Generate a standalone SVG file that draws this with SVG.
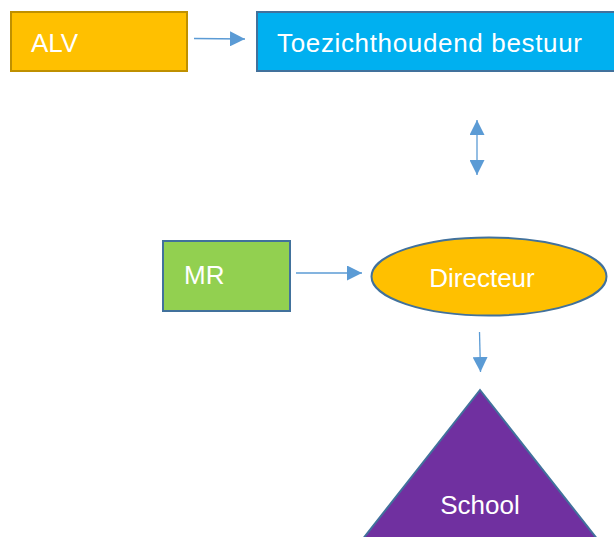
<svg xmlns="http://www.w3.org/2000/svg" width="614" height="537" viewBox="0 0 614 537">
<defs>
<style>
.lbl{font-family:"Liberation Sans",Arial,sans-serif;font-size:26px;fill:#ffffff}
.con{stroke:#5B9BD5;stroke-width:1.3;fill:none}
</style>
<marker id="ah" viewBox="0 0 10 10" refX="10" refY="5" markerWidth="15" markerHeight="15" markerUnits="userSpaceOnUse" orient="auto-start-reverse">
<path d="M0,0 L10,5 L0,10 Z" fill="#5B9BD5"/>
</marker>
</defs>
<rect width="614" height="537" fill="#ffffff"/>
<g id="alv">
<rect x="11" y="12" width="176" height="59" fill="#FFC000" stroke="#BF9000" stroke-width="2"/>
<text class="lbl" x="31" y="52">ALV</text>
</g>
<g id="toezicht">
<rect x="257" y="12" width="370" height="59" fill="#00B0F0" stroke="#41719C" stroke-width="2"/>
<text class="lbl" x="277" y="52" textLength="305">Toezichthoudend bestuur</text>
</g>
<g id="mr">
<rect x="163" y="241" width="127" height="70" fill="#92D050" stroke="#41719C" stroke-width="2"/>
<text class="lbl" x="184" y="284">MR</text>
</g>
<g id="directeur">
<ellipse cx="489" cy="276.5" rx="117.5" ry="39" fill="#FFC000" stroke="#41719C" stroke-width="2"/>
<text class="lbl" x="482" y="287" text-anchor="middle">Directeur</text>
</g>
<g id="school">
<polygon points="480,390 598,540 362,540" fill="#7030A0" stroke="#41719C" stroke-width="2"/>
<text class="lbl" x="480" y="514" text-anchor="middle">School</text>
</g>
<g id="connectors">
<line class="con" x1="194" y1="38.5" x2="245" y2="39" marker-end="url(#ah)"/>
<line class="con" x1="477" y1="120" x2="477" y2="175" marker-start="url(#ah)" marker-end="url(#ah)"/>
<line class="con" x1="296" y1="273" x2="362" y2="273" marker-end="url(#ah)"/>
<line class="con" x1="479.5" y1="332" x2="480.5" y2="372" marker-end="url(#ah)"/>
</g>
</svg>
